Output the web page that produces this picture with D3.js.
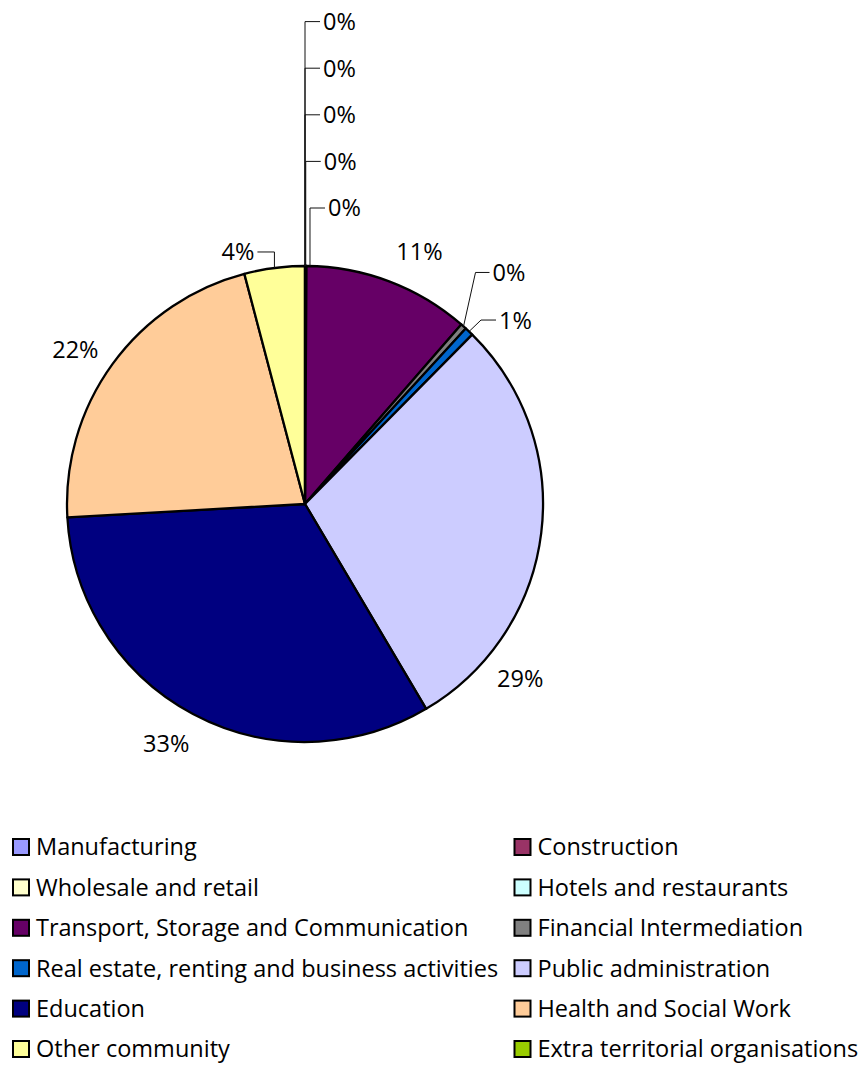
<!DOCTYPE html>
<html>
<head>
<meta charset="utf-8">
<script src="https://cdn.jsdelivr.net/npm/d3@7"></script>
<style>
  body { margin: 0; background: #fff; }
  svg { display: block; }
  text { font-family: "Open Sans", "Noto Sans", sans-serif; fill: #000; }
</style>
</head>
<body>
<svg id="chart" width="859" height="1068"></svg>
<script>
// Employment by sector (share of total, %)
const categories = [
  "Manufacturing",
  "Construction",
  "Wholesale and retail",
  "Hotels and restaurants",
  "Transport, Storage and Communication",
  "Financial Intermediation",
  "Real estate, renting and business activities",
  "Public administration",
  "Education",
  "Health and Social Work",
  "Other community",
  "Extra territorial organisations"
];
const shares = [0, 0, 0.1, 0, 11.3, 0.4, 0.6, 29.1, 32.6, 21.8, 4.1, 0];
const colors = [
  "#9999FF", "#993366", "#FFFFCC", "#CCFFFF", "#660066", "#808080",
  "#0066CC", "#CCCCFF", "#000080", "#FFCC99", "#FFFF99", "#99CC00"
];

const data = categories.map((c, i) => ({ name: c, value: shares[i], color: colors[i] }));
const total = d3.sum(shares);
const pct = v => Math.round(v / total * 100) + "%";

const svg = d3.select("#chart");
const cx = 305, cy = 504, R = 238;
const fontSize = 23.5;

const pie = d3.pie().sort(null).value(d => d.value);
const arcs = pie(data);
const arc = d3.arc().innerRadius(0).outerRadius(R);

const g = svg.append("g").attr("transform", `translate(${cx},${cy})`);

// slices
g.selectAll("path.slice")
  .data(arcs)
  .join("path")
  .attr("class", "slice")
  .attr("d", arc)
  .attr("fill", d => d.data.color)
  .attr("stroke", "#000")
  .attr("stroke-width", 2.3)
  .attr("stroke-linejoin", "round");

// helpers
const mid = d => (d.startAngle + d.endAngle) / 2;
const polar = (a, r) => [r * Math.sin(a), -r * Math.cos(a)];
const deg = Math.PI / 180;

// large slices: label centred on the slice direction, a little outside the rim
const labelNudge = {
  "Transport, Storage and Communication": 3.7,
  "Public administration": 32,
  "Education": 2,
  "Health and Social Work": -2
};
const labelRadius = R + 39;

const bigArcs = arcs.filter(d => d.data.name in labelNudge);
g.selectAll("text.big")
  .data(bigArcs)
  .join("text")
  .attr("class", "big")
  .attr("x", d => polar(mid(d) + labelNudge[d.data.name] * deg, labelRadius)[0])
  .attr("y", d => polar(mid(d) + labelNudge[d.data.name] * deg, labelRadius)[1])
  .attr("dy", "0.36em")
  .attr("text-anchor", "middle")
  .attr("font-size", fontSize)
  .text(d => pct(d.data.value));

// thin slices: leader line from the rim to an elbow, then a short horizontal run
const leaderSpec = {
  "Financial Intermediation": { ex: 12, ey: -54, run: 14 },
  "Real estate, renting and business activities": { ex: 12, ey: -11.5, run: 15 },
  "Other community": { ex: 0, ey: -16, run: -17 }
};
// empty slices at twelve o'clock are stacked upward above the pie
const stackOrder = [
  "Hotels and restaurants",
  "Wholesale and retail",
  "Construction",
  "Manufacturing",
  "Extra territorial organisations"
];
const stackBase = -R - 58, stackStep = 46.6;

const leaders = [];
arcs.forEach(d => {
  const name = d.data.name;
  const a = mid(d);
  const [x0, y0] = polar(a, R);
  if (name in leaderSpec) {
    const s = leaderSpec[name];
    const x1 = x0 + s.ex, y1 = y0 + s.ey;
    const x2 = x1 + s.run;
    leaders.push({ d, pts: [[x0, y0], [x1, y1], [x2, y1]], tx: x2 + Math.sign(s.run) * 3,
                   ty: y1, anchor: s.run > 0 ? "start" : "end" });
  } else if (stackOrder.includes(name)) {
    const k = stackOrder.indexOf(name);
    const y1 = stackBase - k * stackStep;
    const x1 = x0 + (k === 0 ? 3.5 : 0);
    const x2 = x1 + 15;
    leaders.push({ d, pts: [[x1, y0], [x1, y1], [x2, y1]], tx: x2 + 3, ty: y1, anchor: "start" });
  }
});

g.selectAll("path.leader")
  .data(leaders)
  .join("path")
  .attr("class", "leader")
  .attr("d", l => d3.line()(l.pts))
  .attr("fill", "none")
  .attr("stroke", "#111")
  .attr("stroke-width", 1);

g.selectAll("text.small")
  .data(leaders)
  .join("text")
  .attr("class", "small")
  .attr("x", l => l.tx)
  .attr("y", l => l.ty)
  .attr("dy", "0.36em")
  .attr("text-anchor", l => l.anchor)
  .attr("font-size", fontSize)
  .text(l => pct(l.d.data.value));

// legend: two columns, six rows
const colX = d3.scalePoint().domain([0, 1]).range([12, 513.5]);
const rowY = d3.scaleLinear().domain([0, 5]).range([847, 1049]);

const legend = svg.append("g").attr("class", "legend")
  .selectAll("g")
  .data(data)
  .join("g")
  .attr("transform", (d, i) => `translate(${colX(i % 2)},${rowY(Math.floor(i / 2))})`);

legend.append("rect")
  .attr("x", 1).attr("y", -8)
  .attr("width", 16).attr("height", 16)
  .attr("fill", d => d.color)
  .attr("stroke", "#000")
  .attr("stroke-width", 2);

legend.append("text")
  .attr("x", 24)
  .attr("y", 0)
  .attr("dy", "0.36em")
  .attr("font-size", fontSize)
  .text(d => d.name);
</script>
</body>
</html>
